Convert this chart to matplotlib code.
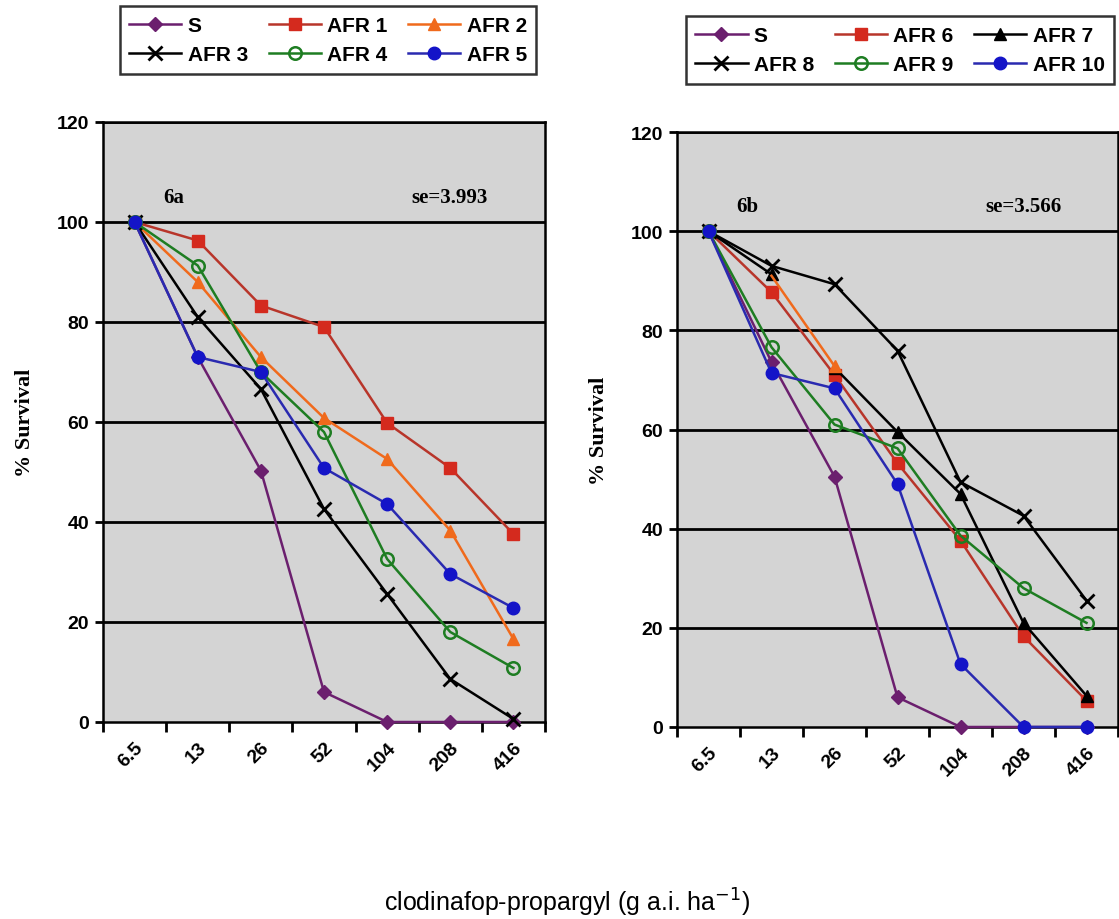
import numpy as np
import matplotlib.pyplot as plt
import matplotlib.transforms as mtransforms

doses = ["6.5", "13", "26", "52", "104", "208", "416"]

# panel 6a
s_a = [100, 73, 50.3, 6, 0, 0, 0]
afr1 = [100, 96.3, 83.3, 79, 59.8, 50.8, 37.6]
afr2 = [100, 88, 73, 60.8, 52.6, 38.3, 16.6]
afr3 = [100, 81, 66.6, 42.6, 25.6, 8.6, 0.6]
afr4 = [100, 91.3, 70, 58, 32.6, 18, 10.8]
afr5 = [100, 73, 70, 50.8, 43.6, 29.6, 22.8]

# panel 6b
s_b = [100, 73.6, 50.5, 6, 0, 0, 0]
afr6 = [100, 87.7, 71, 53.2, 37.6, 18.3, 5.3]
afr7 = [100, 91.3, 72.5, 59.5, 47, 21, 6.3]
afr7_stray = [np.nan, 91, 72.8, np.nan, np.nan, np.nan, np.nan]
afr8 = [100, 93, 89.3, 75.9, 49.4, 42.6, 25.5]
afr9 = [100, 76.6, 61, 56.2, 38.6, 28, 21]
afr10 = [100, 71.4, 68.3, 49, 12.7, 0, 0]

PURPLE = "#6b1f6e"
RED = "#d42a1e"
RED_LINE = "#b8352a"
ORANGE = "#f06a1c"
GREEN = "#1e7d22"
BLUE = "#1414c8"
BLUE_LINE = "#2a2ab0"

STYLES = {
    "S": dict(color=PURPLE, marker="D", mfc=PURPLE, mec=PURPLE, ms=7),
    "red": dict(color=RED_LINE, marker="s", mfc=RED, mec=RED, ms=9),
    "orange": dict(color=ORANGE, marker="^", mfc=ORANGE, mec=ORANGE, ms=9),
    "cross": dict(color="black", marker="x", mfc="black", mec="black", ms=10, mew=2),
    "green": dict(color=GREEN, marker="o", mfc="none", mec=GREEN, ms=9, mew=1.8),
    "blue": dict(color=BLUE_LINE, marker="o", mfc=BLUE, mec=BLUE, ms=9),
    "tri": dict(color="black", marker="^", mfc="black", mec="black", ms=9),
}

fig = plt.figure(figsize=(11.19, 9.2), dpi=100)
ax_a = fig.add_axes([103 / 1119, 1 - 723 / 920, 442 / 1119, 600 / 920])
ax_b = fig.add_axes([677 / 1119, 1 - 728 / 920, 441 / 1119, 595 / 920])


def style_axes(ax, tag, se):
    x = np.arange(len(doses))
    ax.set_facecolor("#d4d4d4")
    ax.set_xlim(-0.5, len(doses) - 0.5)
    ax.set_ylim(0, 120)
    ax.set_yticks(range(0, 121, 20))
    ax.set_yticklabels([str(v) for v in range(0, 121, 20)], fontsize=14,
                       fontweight="bold", family="Liberation Sans")
    for v in range(20, 121, 20):
        ax.axhline(v, color="black", lw=2, zorder=1)
    ax.set_xticks(np.arange(-0.5, len(doses)), minor=False)
    ax.set_xticklabels([])
    ax.set_xticks(x, minor=True)
    ax.set_xticklabels(doses, minor=True, rotation=45, ha="right",
                       rotation_mode="anchor", fontsize=14, fontweight="bold",
                       family="Liberation Sans")
    shift = mtransforms.ScaledTranslation(-6 / 100, 0, fig.dpi_scale_trans)
    for lab in ax.get_xticklabels(minor=True):
        lab.set_transform(lab.get_transform() + shift)
    ax.tick_params(axis="x", which="major", length=7, width=2, direction="out")
    ax.tick_params(axis="x", which="minor", length=0, pad=12)
    ax.tick_params(axis="y", length=6, width=2, direction="out", pad=4)
    for sp in ax.spines.values():
        sp.set_linewidth(1.8)
        sp.set_color("black")
    ax.set_ylabel("% Survival", fontsize=16, fontweight="bold",
                  family="Liberation Serif", labelpad=16)
    ax.text(0.16, 0.875, tag, transform=ax.transAxes, fontsize=15,
            fontweight="bold", family="Liberation Serif", ha="center", va="center")
    ax.text(0.785, 0.875, se, transform=ax.transAxes, fontsize=15,
            fontweight="bold", family="Liberation Serif", ha="center", va="center")


def add_legend(handles, labels, bbox):
    # matplotlib fills columns first, reorder so rows read left to right
    order = [0, 3, 1, 4, 2, 5]
    leg = fig.legend([handles[i] for i in order], [labels[i] for i in order],
                     ncol=3, loc="center", bbox_to_anchor=bbox,
                     bbox_transform=fig.transFigure,
                     prop=dict(family="Liberation Sans", weight="bold", size=15),
                     frameon=True, fancybox=False, edgecolor="black",
                     handlelength=2.5, handletextpad=0.3, columnspacing=1.0,
                     labelspacing=0.5, borderpad=0.45)
    leg.get_frame().set_linewidth(1.8)


x = np.arange(len(doses))

style_axes(ax_a, "6a", "se=3.993")
series_a = [(s_a, "S", "S"), (afr1, "red", "AFR 1"), (afr2, "orange", "AFR 2"),
            (afr3, "cross", "AFR 3"), (afr4, "green", "AFR 4"), (afr5, "blue", "AFR 5")]
handles_a = []
for vals, st, lab in series_a:
    h, = ax_a.plot(x, vals, lw=1.8, zorder=3, clip_on=False, **STYLES[st])
    handles_a.append(h)
add_legend(handles_a, [s[2] for s in series_a],
           ((128 + 528) / 2 / 1119, 1 - 41 / 920))

style_axes(ax_b, "6b", "se=3.566")
series_b = [(s_b, "S", "S"), (afr6, "red", "AFR 6"), (afr7, "tri", "AFR 7"),
            (afr8, "cross", "AFR 8"), (afr9, "green", "AFR 9"), (afr10, "blue", "AFR 10")]
handles_b = []
for vals, st, lab in series_b:
    if lab == "AFR 7":
        # 13 -> 26 segment is drawn orange in the original
        h, = ax_b.plot(x[[0, 1]], [vals[0], vals[1]], lw=1.8, zorder=3, **STYLES[st])
        ax_b.plot(x[2:], vals[2:], lw=1.8, zorder=3, **STYLES[st])
        ax_b.plot(x, afr7_stray, lw=1.8, zorder=3, markevery=[2], **STYLES["orange"])
    else:
        h, = ax_b.plot(x, vals, lw=1.8, zorder=3, clip_on=False, **STYLES[st])
    handles_b.append(h)
add_legend(handles_b, [s[2] for s in series_b],
           ((685 + 1115) / 2 / 1119, 1 - 51 / 920))

fig.text(567 / 1119, 1 - 903 / 920, "clodinafop-propargyl (g a.i. ha$^{-1}$)",
         fontsize=18, family="Liberation Sans", ha="center", va="center")

fig.savefig("out.png", dpi=100)
